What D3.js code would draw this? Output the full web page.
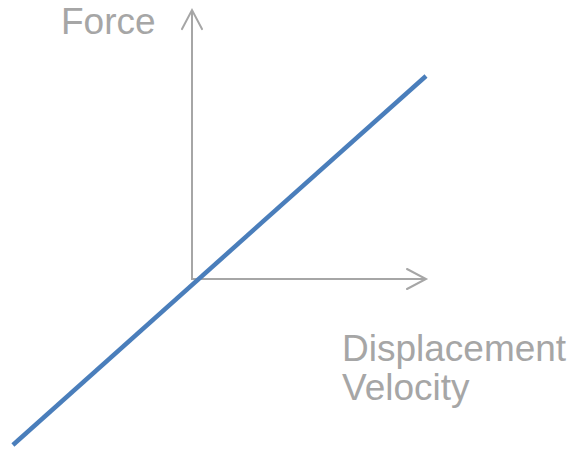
<!DOCTYPE html>
<html>
<head>
<meta charset="utf-8">
<script src="https://cdn.jsdelivr.net/npm/d3@7"></script>
<style>
  html, body { margin: 0; padding: 0; background: #fff; }
  svg { display: block; }
  text { font-family: "Liberation Sans", Arial, sans-serif; fill: #a6a6a6; }
</style>
</head>
<body>
<script>
// Linear force response: F = k·x (or c·v), passing through the origin
const lineX = [-0.995, 1.3];
const lineY = [-0.922, 1.128];

// Axis extents (arrow tips) in data units
const axisXEnd = [1.3];
const axisYEnd = [1.494];

// Axis titles
const yTitle = ["Force"];
const xTitle = ["Displacement", "Velocity"];

const W = 575, H = 449;
const svg = d3.select("body").append("svg").attr("width", W).attr("height", H);

const x = d3.scaleLinear().domain([-1, 1.3]).range([12, 426]);
const y = d3.scaleLinear().domain([-1, 1.5]).range([459, 9]);

const axisColor = "#a6a6a6";
const g = svg.append("g");

// Horizontal axis with open arrowhead
const x0 = x(0), y0 = y(0);
const xt = x(axisXEnd[0]);
g.append("line")
  .attr("x1", x0).attr("y1", y0).attr("x2", xt).attr("y2", y0)
  .attr("stroke", axisColor).attr("stroke-width", 2);
g.append("path")
  .attr("d", `M${xt - 19},${y0 - 10}L${xt},${y0}L${xt - 19},${y0 + 10}`)
  .attr("fill", "none").attr("stroke", axisColor).attr("stroke-width", 2)
  .attr("stroke-linecap", "round").attr("stroke-linejoin", "miter");

// Vertical axis with open arrowhead
const yt = y(axisYEnd[0]);
g.append("line")
  .attr("x1", x0).attr("y1", y0 + 1).attr("x2", x0).attr("y2", yt)
  .attr("stroke", axisColor).attr("stroke-width", 2);
g.append("path")
  .attr("d", `M${x0 - 10},${yt + 19}L${x0},${yt}L${x0 + 10},${yt + 19}`)
  .attr("fill", "none").attr("stroke", axisColor).attr("stroke-width", 2)
  .attr("stroke-linecap", "round").attr("stroke-linejoin", "miter");

// Response line
const pts = lineX.map((v, i) => [v, lineY[i]]);
svg.append("path")
  .datum(pts)
  .attr("d", d3.line().x(d => x(d[0])).y(d => y(d[1])))
  .attr("fill", "none")
  .attr("stroke", "#4a7ebb")
  .attr("stroke-width", 4.5);

// Titles
svg.append("text")
  .attr("x", 61).attr("y", 34)
  .attr("font-size", 37)
  .text(yTitle[0]);

svg.selectAll("text.xt")
  .data(xTitle)
  .join("text")
  .attr("class", "xt")
  .attr("x", 342)
  .attr("y", (d, i) => 361 + i * 39)
  .attr("font-size", 37)
  .text(d => d);
</script>
</body>
</html>
